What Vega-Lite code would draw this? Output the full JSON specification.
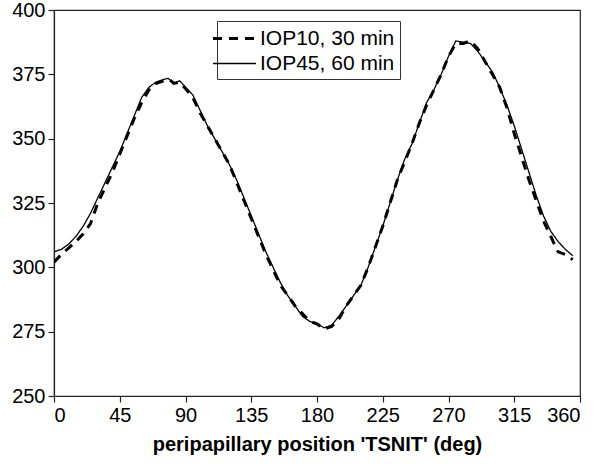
{
  "$schema": "https://vega.github.io/schema/vega-lite/v6.json",
  "width": 526,
  "height": 386,
  "autosize": {"type": "none"},
  "padding": {"left": 54, "top": 10, "right": 20, "bottom": 75},
  "background": "white",
  "config": {
    "font": "Liberation Sans",
    "view": {"stroke": "#222", "strokeWidth": 1.2},
    "axis": {"grid": false, "domainColor": "#222", "tickColor": "#222", "labelColor": "black", "labelFontSize": 20, "tickSize": 6, "labelPadding": 3, "domainWidth": 1.2, "tickWidth": 1.2}
  },
  "data": {"values": [
    {"deg":0,"v":306,"s":"IOP45, 60 min"},{"deg":5,"v":307,"s":"IOP45, 60 min"},{"deg":10,"v":309,"s":"IOP45, 60 min"},{"deg":15,"v":312,"s":"IOP45, 60 min"},{"deg":20,"v":316,"s":"IOP45, 60 min"},{"deg":25,"v":321,"s":"IOP45, 60 min"},{"deg":30,"v":327,"s":"IOP45, 60 min"},{"deg":35,"v":333,"s":"IOP45, 60 min"},{"deg":40,"v":339,"s":"IOP45, 60 min"},{"deg":45,"v":345,"s":"IOP45, 60 min"},{"deg":50,"v":352,"s":"IOP45, 60 min"},{"deg":55,"v":359,"s":"IOP45, 60 min"},{"deg":60,"v":366,"s":"IOP45, 60 min"},{"deg":65,"v":370,"s":"IOP45, 60 min"},{"deg":70,"v":372,"s":"IOP45, 60 min"},{"deg":75,"v":373,"s":"IOP45, 60 min"},{"deg":78,"v":373.5,"s":"IOP45, 60 min"},{"deg":82,"v":371.5,"s":"IOP45, 60 min"},{"deg":86,"v":372.5,"s":"IOP45, 60 min"},{"deg":90,"v":370,"s":"IOP45, 60 min"},{"deg":95,"v":367,"s":"IOP45, 60 min"},{"deg":100,"v":361,"s":"IOP45, 60 min"},{"deg":105,"v":355,"s":"IOP45, 60 min"},{"deg":110,"v":350,"s":"IOP45, 60 min"},{"deg":115,"v":345,"s":"IOP45, 60 min"},{"deg":120,"v":340,"s":"IOP45, 60 min"},{"deg":125,"v":334,"s":"IOP45, 60 min"},{"deg":130,"v":327,"s":"IOP45, 60 min"},{"deg":135,"v":320,"s":"IOP45, 60 min"},{"deg":140,"v":313,"s":"IOP45, 60 min"},{"deg":145,"v":306,"s":"IOP45, 60 min"},{"deg":150,"v":300,"s":"IOP45, 60 min"},{"deg":155,"v":294,"s":"IOP45, 60 min"},{"deg":160,"v":289,"s":"IOP45, 60 min"},{"deg":165,"v":285,"s":"IOP45, 60 min"},{"deg":170,"v":281,"s":"IOP45, 60 min"},{"deg":175,"v":279,"s":"IOP45, 60 min"},{"deg":180,"v":278,"s":"IOP45, 60 min"},{"deg":185,"v":276.5,"s":"IOP45, 60 min"},{"deg":190,"v":277.5,"s":"IOP45, 60 min"},{"deg":195,"v":281,"s":"IOP45, 60 min"},{"deg":200,"v":285,"s":"IOP45, 60 min"},{"deg":205,"v":289,"s":"IOP45, 60 min"},{"deg":210,"v":293,"s":"IOP45, 60 min"},{"deg":215,"v":300,"s":"IOP45, 60 min"},{"deg":220,"v":308,"s":"IOP45, 60 min"},{"deg":225,"v":316,"s":"IOP45, 60 min"},{"deg":230,"v":325,"s":"IOP45, 60 min"},{"deg":235,"v":334,"s":"IOP45, 60 min"},{"deg":240,"v":342,"s":"IOP45, 60 min"},{"deg":245,"v":348,"s":"IOP45, 60 min"},{"deg":250,"v":356,"s":"IOP45, 60 min"},{"deg":255,"v":364,"s":"IOP45, 60 min"},{"deg":260,"v":369,"s":"IOP45, 60 min"},{"deg":265,"v":375,"s":"IOP45, 60 min"},{"deg":270,"v":382,"s":"IOP45, 60 min"},{"deg":275,"v":388,"s":"IOP45, 60 min"},{"deg":280,"v":387.5,"s":"IOP45, 60 min"},{"deg":285,"v":387,"s":"IOP45, 60 min"},{"deg":290,"v":384,"s":"IOP45, 60 min"},{"deg":295,"v":380,"s":"IOP45, 60 min"},{"deg":300,"v":376,"s":"IOP45, 60 min"},{"deg":305,"v":370,"s":"IOP45, 60 min"},{"deg":310,"v":363,"s":"IOP45, 60 min"},{"deg":315,"v":355,"s":"IOP45, 60 min"},{"deg":320,"v":346,"s":"IOP45, 60 min"},{"deg":325,"v":337,"s":"IOP45, 60 min"},{"deg":330,"v":328,"s":"IOP45, 60 min"},{"deg":335,"v":320,"s":"IOP45, 60 min"},{"deg":340,"v":314,"s":"IOP45, 60 min"},{"deg":345,"v":310,"s":"IOP45, 60 min"},{"deg":350,"v":307,"s":"IOP45, 60 min"},{"deg":355,"v":304.5,"s":"IOP45, 60 min"},
    {"deg":0,"v":302,"s":"IOP10, 30 min"},{"deg":5,"v":305,"s":"IOP10, 30 min"},{"deg":10,"v":307.5,"s":"IOP10, 30 min"},{"deg":15,"v":310,"s":"IOP10, 30 min"},{"deg":20,"v":313,"s":"IOP10, 30 min"},{"deg":25,"v":317,"s":"IOP10, 30 min"},{"deg":30,"v":325,"s":"IOP10, 30 min"},{"deg":35,"v":331,"s":"IOP10, 30 min"},{"deg":40,"v":337,"s":"IOP10, 30 min"},{"deg":45,"v":344,"s":"IOP10, 30 min"},{"deg":50,"v":351,"s":"IOP10, 30 min"},{"deg":55,"v":358,"s":"IOP10, 30 min"},{"deg":60,"v":364,"s":"IOP10, 30 min"},{"deg":65,"v":369,"s":"IOP10, 30 min"},{"deg":70,"v":371.5,"s":"IOP10, 30 min"},{"deg":75,"v":372.5,"s":"IOP10, 30 min"},{"deg":79,"v":373,"s":"IOP10, 30 min"},{"deg":82,"v":371.5,"s":"IOP10, 30 min"},{"deg":86,"v":372,"s":"IOP10, 30 min"},{"deg":90,"v":369.5,"s":"IOP10, 30 min"},{"deg":95,"v":366,"s":"IOP10, 30 min"},{"deg":100,"v":360,"s":"IOP10, 30 min"},{"deg":105,"v":355,"s":"IOP10, 30 min"},{"deg":110,"v":350,"s":"IOP10, 30 min"},{"deg":115,"v":345,"s":"IOP10, 30 min"},{"deg":120,"v":340,"s":"IOP10, 30 min"},{"deg":125,"v":333,"s":"IOP10, 30 min"},{"deg":130,"v":326,"s":"IOP10, 30 min"},{"deg":135,"v":319,"s":"IOP10, 30 min"},{"deg":140,"v":312,"s":"IOP10, 30 min"},{"deg":145,"v":305,"s":"IOP10, 30 min"},{"deg":150,"v":299,"s":"IOP10, 30 min"},{"deg":155,"v":293,"s":"IOP10, 30 min"},{"deg":160,"v":289,"s":"IOP10, 30 min"},{"deg":165,"v":285,"s":"IOP10, 30 min"},{"deg":170,"v":282,"s":"IOP10, 30 min"},{"deg":175,"v":279,"s":"IOP10, 30 min"},{"deg":180,"v":278,"s":"IOP10, 30 min"},{"deg":185,"v":276,"s":"IOP10, 30 min"},{"deg":190,"v":277,"s":"IOP10, 30 min"},{"deg":195,"v":280,"s":"IOP10, 30 min"},{"deg":200,"v":285,"s":"IOP10, 30 min"},{"deg":205,"v":289,"s":"IOP10, 30 min"},{"deg":210,"v":293,"s":"IOP10, 30 min"},{"deg":215,"v":300,"s":"IOP10, 30 min"},{"deg":220,"v":308,"s":"IOP10, 30 min"},{"deg":225,"v":316,"s":"IOP10, 30 min"},{"deg":230,"v":325,"s":"IOP10, 30 min"},{"deg":235,"v":334,"s":"IOP10, 30 min"},{"deg":240,"v":341,"s":"IOP10, 30 min"},{"deg":245,"v":348,"s":"IOP10, 30 min"},{"deg":250,"v":356,"s":"IOP10, 30 min"},{"deg":255,"v":363,"s":"IOP10, 30 min"},{"deg":260,"v":369,"s":"IOP10, 30 min"},{"deg":265,"v":375,"s":"IOP10, 30 min"},{"deg":270,"v":382,"s":"IOP10, 30 min"},{"deg":275,"v":387,"s":"IOP10, 30 min"},{"deg":280,"v":387,"s":"IOP10, 30 min"},{"deg":285,"v":388,"s":"IOP10, 30 min"},{"deg":290,"v":385,"s":"IOP10, 30 min"},{"deg":295,"v":380,"s":"IOP10, 30 min"},{"deg":300,"v":375,"s":"IOP10, 30 min"},{"deg":305,"v":370,"s":"IOP10, 30 min"},{"deg":310,"v":362,"s":"IOP10, 30 min"},{"deg":315,"v":352,"s":"IOP10, 30 min"},{"deg":320,"v":343,"s":"IOP10, 30 min"},{"deg":325,"v":334,"s":"IOP10, 30 min"},{"deg":330,"v":326,"s":"IOP10, 30 min"},{"deg":335,"v":318,"s":"IOP10, 30 min"},{"deg":340,"v":312,"s":"IOP10, 30 min"},{"deg":345,"v":306,"s":"IOP10, 30 min"},{"deg":350,"v":305,"s":"IOP10, 30 min"},{"deg":355,"v":303,"s":"IOP10, 30 min"}
  ]},
  "mark": {"type": "line", "color": "black", "clip": true},
  "encoding": {
    "x": {"field": "deg", "type": "quantitative", "scale": {"domain": [0, 360], "nice": false}, "axis": {"values": [0,45,90,135,180,225,270,315,360], "title": "peripapillary position 'TSNIT' (deg)", "titleFontSize": 20, "titleFontWeight": "bold", "titleColor": "black", "titlePadding": 9}},
    "y": {"field": "v", "type": "quantitative", "scale": {"domain": [250, 400], "nice": false, "zero": false}, "axis": {"values": [250,275,300,325,350,375,400], "title": null}},
    "strokeDash": {"field": "s", "type": "nominal", "scale": {"domain": ["IOP10, 30 min", "IOP45, 60 min"], "range": [[9, 7], [1, 0]]}, "legend": {"title": null, "orient": "none", "legendX": 163, "legendY": 11, "symbolType": "M-2,0H2", "symbolSize": 462, "symbolStrokeColor": "black", "symbolFillColor": "transparent", "labelFontSize": 21, "labelColor": "black", "labelOffset": 13, "padding": 5, "rowPadding": 3, "strokeColor": "#333", "fillColor": "white"}},
    "strokeWidth": {"field": "s", "type": "nominal", "scale": {"domain": ["IOP10, 30 min", "IOP45, 60 min"], "range": [3, 1.3]}, "legend": {"title": null, "orient": "none", "legendX": 163, "legendY": 11, "symbolType": "M-2,0H2", "symbolSize": 462, "symbolStrokeColor": "black", "symbolFillColor": "transparent", "labelFontSize": 21, "labelColor": "black", "labelOffset": 13, "padding": 5, "rowPadding": 3, "strokeColor": "#333", "fillColor": "white"}}
  }
}
